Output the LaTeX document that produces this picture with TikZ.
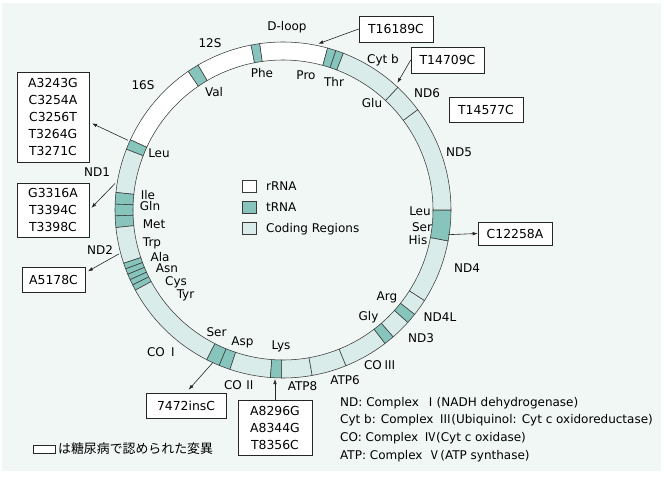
\documentclass[tikz,border=0pt]{standalone}
\usepackage{fontspec}
\setmainfont{DejaVu Sans}
\newfontfamily\jp{Noto Sans CJK JP}
\usetikzlibrary{arrows.meta}
\definecolor{bgpanel}{HTML}{F1F7F5}
\definecolor{trnacol}{HTML}{86C4BC}
\definecolor{codecol}{HTML}{DAECEA}
\definecolor{ringline}{HTML}{3A3A3A}

\begin{document}
\begin{tikzpicture}[x=1pt, y=1pt]
		\tikzset{lbl/.style={inner sep=0, font=\fontsize{12}{14}\selectfont, text height=8.7pt, text depth=0pt}}
		\tikzset{mut/.style={draw=black!85, fill=white, line width=0.6pt, inner sep=0, align=center, font=\fontsize{12.4}{17}\selectfont}}
		\tikzset{ar/.style={-{Latex[length=5pt, width=3.6pt]}, draw=black!85, line width=0.6pt}}
		\tikzset{rr/.style={fill=white}, tr/.style={fill=trnacol}, cr/.style={fill=codecol}}
		\tikzset{key/.style={draw=ringline, line width=0.6pt, minimum width=14pt, minimum height=12pt, inner sep=0}}
		\useasboundingbox (-283,210) rectangle (381,-267);
		\fill[bgpanel] (-281,207) rectangle (378,-261);
		\foreach \a/\b/\s in {74.6/98/rr, 98/101/tr, 101/120.4/rr, 120.4/124.4/tr, 124.4/155.3/rr,
			155.3/158.8/tr, 158.8/174/cr, 174/178/tr, 178/182/tr, 182/186/tr, 186/198.5/cr,
			198.5/200.5/tr, 200.5/202.5/tr, 202.5/204.5/tr, 204.5/206.5/tr, 206.5/208.5/tr,
			208.5/243/cr, 243/247.7/tr, 247.7/251.6/tr, 251.6/265.7/cr, 265.7/269.5/tr,
			269.5/280/cr, 280/292/cr, 292/307.4/cr, 307.4/311/tr, 311/318/cr, 318/321.6/tr,
			321.6/327.4/cr, 327.4/349.4/cr, 349.4/360/tr, 0/36.7/cr, 36.7/46.9/cr,
			46.9/69/cr, 69/71.7/tr, 71.7/74.6/tr}
			\draw[\s, draw=ringline, line width=0.55pt] (\a:168) arc[start angle=\a, end angle=\b, radius=168]
				-- (\b:150) arc[start angle=\b, end angle=\a, radius=150] -- cycle;
		\node[lbl] (dloop) at (4,184) {D-loop};
		\node[lbl] (s12) at (-73,167) {12S};
		\node[lbl] (s16) at (-140,125) {16S};
		\node[lbl] (phe) at (-21,137) {Phe};
		\node[lbl] (val) at (-69,118) {Val};
		\node[lbl] (pro) at (23,135) {Pro};
		\node[lbl] (thr) at (51,128) {Thr};
		\node[lbl] (cytb) at (100,151) {Cyt b};
		\node[lbl] (glu) at (89,107) {Glu};
		\node[lbl] (nd6) at (144,117) {ND6};
		\node[lbl] (nd5) at (176,58) {ND5};
		\node[lbl] (leur) at (137,-1) {Leu};
		\node[lbl] (serr) at (139,-17) {Ser};
		\node[lbl] (his) at (135,-30) {His};
		\node[lbl] (nd4) at (184,-58.5) {ND4};
		\node[lbl] (arg) at (104,-86) {Arg};
		\node[lbl] (gly) at (85.5,-106) {Gly};
		\node[lbl] (nd4l) at (157,-107) {ND4L};
		\node[lbl] (nd3) at (138,-128) {ND3};
		\node[lbl] (co3) at (97,-155) {CO{\jp\,Ⅲ}};
		\node[lbl] (atp6) at (62,-170) {ATP6};
		\node[lbl] (atp8) at (19.5,-176) {ATP8};
		\node[lbl] (lys) at (-2,-135) {Lys};
		\node[lbl] (co2) at (-43,-175) {CO{\jp\,Ⅱ}};
		\node[lbl] (asp) at (-40.5,-131) {Asp};
		\node[lbl] (serl) at (-66.5,-122) {Ser};
		\node[lbl] (co1) at (-120,-142) {CO{\jp\,Ⅰ}};
		\node[lbl] (tyr) at (-97.5,-84) {Tyr};
		\node[lbl] (cys) at (-107,-71) {Cys};
		\node[lbl] (asn) at (-116,-58) {Asn};
		\node[lbl] (ala) at (-123,-47) {Ala};
		\node[lbl] (trp) at (-131,-32) {Trp};
		\node[lbl] (nd2) at (-183,-40) {ND2};
		\node[lbl] (met) at (-129,-14) {Met};
		\node[lbl] (gln) at (-133,4) {Gln};
		\node[lbl] (ile) at (-135,15) {Ile};
		\node[lbl] (nd1) at (-186,38) {ND1};
		\node[lbl] (leul) at (-124,57) {Leu};
		\node[key, fill=white] (keyr) at (-34,24) {};
		\node[key, fill=trnacol] (keyt) at (-34,3) {};
		\node[key, fill=codecol] (keyc) at (-34,-18.5) {};
		\node[lbl, anchor=west] (keyrt) at (-17,24) {rRNA};
		\node[lbl, anchor=west] (keytt) at (-17,3) {tRNA};
		\node[lbl, anchor=west] (keyct) at (-17,-18.5) {Coding Regions};
		\node[mut, minimum width=74pt, minimum height=26pt] (t16189) at (113,181) {T16189C};
		\node[mut, minimum width=73pt, minimum height=26pt] (t14709) at (164.5,150) {T14709C};
		\node[mut, minimum width=74pt, minimum height=25pt] (t14577) at (203,100.5) {T14577C};
		\node[mut, minimum width=74pt, minimum height=23pt] (c12258) at (232,-23.5) {C12258A};
		\node[mut, minimum width=72pt, minimum height=90pt] (box3243) at (-230,93) {A3243G\\C3254A\\C3256T\\T3264G\\T3271C};
		\node[mut, minimum width=72pt, minimum height=54pt] (box3316) at (-230,0) {G3316A\\T3394C\\T3398C};
		\node[mut, minimum width=63pt, minimum height=25pt] (a5178) at (-229.5,-69.5) {A5178C};
		\node[mut, minimum width=80pt, minimum height=25pt] (ins7472) at (-97,-195.5) {7472insC};
		\node[mut, minimum width=74pt, minimum height=55pt] (box8296) at (-8,-217.5) {A8296G\\A8344G\\T8356C};
		\coordinate (m16189) at (78:170);
		\coordinate (m14709) at (48:171);
		\coordinate (m12258) at (-8.5:167);
		\coordinate (m3243) at (155.8:170);
		\coordinate (m3316) at (171:170);
		\coordinate (m5178) at (-165:170);
		\coordinate (m7472) at (-114.7:168);
		\coordinate (m8296) at (-8,-169);
		\draw[ar] (t16189.west) -- (m16189);
		\draw[ar] (t14709.west) -- (m14709);
		\draw[ar] (m12258) -- (c12258.west);
		\draw[ar, shorten >=3pt] (m3243) -- (box3243.352);
		\draw[ar, shorten >=3pt] (m3316) -- (box3316.east);
		\draw[ar, shorten >=3pt] (m5178) -- (a5178.12);
		\draw[ar, shorten >=4pt] (m7472) -- (ins7472.north);
		\draw[ar] (box8296.north) -- (m8296);
		\node[lbl, anchor=west] (notend) at (57,-192) {ND: Complex {\jp\,Ⅰ}(NADH dehydrogenase)};
		\node[lbl, anchor=west] (notecyt) at (57,-209.5) {Cyt b: Complex {\jp\,Ⅲ}(Ubiquinol: Cyt c oxidoreductase)};
		\node[lbl, anchor=west] (noteco) at (57,-227) {CO: Complex {\jp\,Ⅳ}(Cyt c oxidase)};
		\node[lbl, anchor=west] (noteatp) at (57,-245) {ATP: Complex {\jp\,Ⅴ}(ATP synthase)};
		\node[draw=black!85, fill=white, line width=0.6pt, minimum width=22pt, minimum height=8pt, inner sep=0] (keydm) at (-239,-239) {};
		\node[anchor=west, inner sep=0, font=\jp\fontsize{12.9}{14}\selectfont] (keydmt) at (-225,-239) {は糖尿病で認められた変異};
	\end{tikzpicture}
\end{document}
